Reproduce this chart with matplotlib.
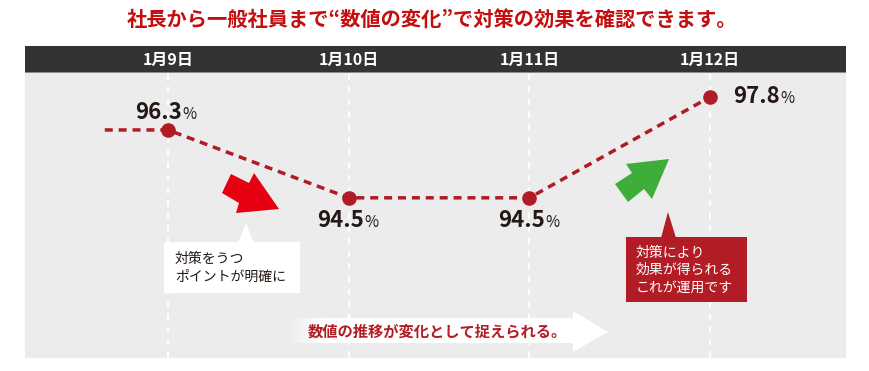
import matplotlib
matplotlib.use('Agg')
import matplotlib.pyplot as plt
import numpy as np
from matplotlib.patches import Rectangle, Polygon

plt.rcParams['font.family'] = ['Noto Sans CJK JP', 'DejaVu Sans']

# ---- data ----
title = "社長から一般社員まで“数値の変化”で対策の効果を確認できます。"
dates = ["1月9日", "1月10日", "1月11日", "1月12日"]
values = [96.3, 94.5, 94.5, 97.8]
note_left = "対策をうつ\nポイントが明確に"
note_right = "対策により\n効果が得られる\nこれが運用です"
bottom_msg = "数値の推移が変化として捉えられる。"

W, H = 870, 371
fig = plt.figure(figsize=(W / 100, H / 100), dpi=100)
fig.patch.set_facecolor('white')


def fx(px):
    return px / W


def fy(py):
    return 1 - py / H


# ---- main chart axes (gray panel) ----
ax = fig.add_axes([fx(25), fy(358), (846 - 25) / W, (358 - 73) / H])
ax.set_facecolor('#ececec')
x = np.arange(len(dates))

# the original chart uses a compressive (non-linear) vertical scale
Y0 = 92.9
ax.set_yscale('function', functions=(lambda v: np.log(np.maximum(v - Y0, 1e-9)),
                                     lambda f: np.exp(f) + Y0))
ax.set_xlim(-0.7915, 3.7528)
ax.set_ylim(93.17, 99.30)
for s in ax.spines.values():
    s.set_visible(False)
ax.set_yticks([])
ax.yaxis.set_minor_locator(matplotlib.ticker.NullLocator())
ax.xaxis.tick_top()
ax.set_xticks(x, dates, color='white', fontsize=11.5, fontweight='bold')
ax.tick_params(axis='x', length=0, pad=4)

# header bar
ax.add_patch(Rectangle((0, 1), 1, 27.5 / 285, transform=ax.transAxes,
                       clip_on=False, facecolor='#333432', edgecolor='none', zorder=1))
ax.add_patch(Rectangle((0, 1), 1, 1.2 / 285, transform=ax.transAxes,
                       clip_on=False, facecolor='#8a8a8a', edgecolor='none', zorder=1.1))

for xi in x:
    ax.axvline(xi, color='white', lw=1.3, ls=(0, (3.5, 3.5)), zorder=1.5)

line_color = '#b01c26'
ax.plot(np.r_[x[0] - 0.35, x], np.r_[values[0], values], color=line_color,
        lw=2.5, ls=(0, (2.3, 1.7)), zorder=3)
ax.plot(x, values, 'o', color=line_color, ms=9.5, zorder=4)

# value labels: (dx of number right edge, dy of baseline) in pixels
label_offsets = [(14, 11), (15, -29), (16, -29), (70, -6)]
for xi, v, (dx, dy) in zip(x, values, label_offsets):
    ax.annotate(f"{v:.1f}", (xi, v), xytext=(dx * 0.72, dy * 0.72),
                textcoords='offset points', ha='right', va='baseline',
                fontsize=16, fontweight='bold', color='#231815', zorder=5)
    ax.annotate("%", (xi, v), xytext=((dx + 0.5) * 0.72, dy * 0.72),
                textcoords='offset points', ha='left', va='baseline',
                fontsize=11, color='#231815', zorder=5)

# ---- overlay for decorations ----
ov = fig.add_axes([0, 0, 1, 1], zorder=5)
ov.patch.set_alpha(0)
ov.axis('off')

ov.text(432, 19, title, ha='center', va='center', fontsize=14.6,
        fontweight='bold', color='#c40d0e')

# red arrow (down)
ov.add_patch(Polygon([(231, 174), (249, 183), (254, 173), (279, 209),
                      (236, 213), (239, 203), (222, 193)],
                     closed=True, facecolor='#e60012', edgecolor='none'))
# green arrow (up)
ov.add_patch(Polygon([(615, 184), (632, 173), (626, 164), (669, 159),
                      (652, 199), (644, 189), (628, 202)],
                     closed=True, facecolor='#3eae38', edgecolor='none'))

# white callout
ov.add_patch(Rectangle((164, 242), 136, 51, facecolor='white', edgecolor='none'))
ov.add_patch(Polygon([(238, 243), (246, 223), (254, 243)], closed=True,
                     facecolor='white', edgecolor='none'))
ov.text(175, 268, note_left, ha='left', va='center', fontsize=10,
        color='#231815', linespacing=1.4)

# red callout
ov.add_patch(Rectangle((626, 237), 121, 65, facecolor='#b21d25', edgecolor='none'))
ov.add_patch(Polygon([(661, 238), (668, 212), (676, 238)], closed=True,
                     facecolor='#b21d25', edgecolor='none'))
ov.text(636, 270, note_right, ha='left', va='center', fontsize=10,
        color='white', linespacing=1.3)

# bottom white arrow with faded tail
grad = np.ones((1, 64, 4))
grad[0, :, 3] = np.linspace(0, 1, 64)
ov.imshow(grad, extent=(287, 322, 343, 318), aspect='auto',
          interpolation='bilinear', zorder=1)
ov.add_patch(Rectangle((321.5, 318), 253, 25, facecolor='white', edgecolor='none', zorder=1))
ov.add_patch(Polygon([(573, 311), (608, 332), (573, 352)], closed=True,
                     facecolor='white', edgecolor='none', zorder=1))
ov.text(308, 331, bottom_msg, ha='left', va='center', fontsize=11,
        fontweight='bold', color='#b21d25', zorder=2)

ov.set_xlim(0, W)
ov.set_ylim(H, 0)

fig.savefig('out.png', dpi=100)
